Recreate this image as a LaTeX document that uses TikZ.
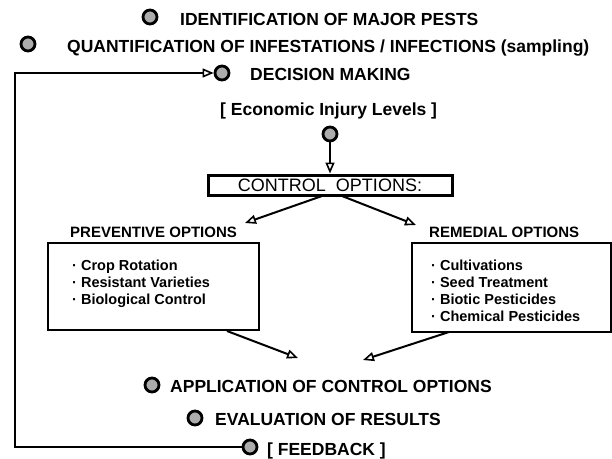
\documentclass[tikz,border=0pt]{standalone}
\usepackage{fontspec}
\setmainfont{Liberation Sans}
\usetikzlibrary{arrows.meta}
\begin{document}
\begin{tikzpicture}[x=1pt,y=-1pt,
  lbl/.style={font=\bfseries\fontsize{17.5}{20}\selectfont, inner sep=0pt, anchor=base west},
  sub/.style={font=\bfseries\fontsize{15}{17}\selectfont, inner sep=0pt, anchor=base west},
  item/.style={font=\bfseries\fontsize{14.5}{16.8}\selectfont, inner sep=0pt, anchor=north west, align=left},
  dot/.style={circle, draw, line width=2.8pt, fill=gray!65, minimum size=14pt, inner sep=0pt},
  conn/.style={line width=2pt, -{Triangle[open,length=11pt,width=9pt,line width=1.6pt]}},
  optbox/.style={draw, line width=2.2pt}]
\useasboundingbox (0,0) rectangle (612,458);

% top items
\node[dot] (d1) at (150,17) {};
\node[lbl] (t1) at (180,25) {IDENTIFICATION OF MAJOR  PESTS};
\node[dot] (d2) at (28,44) {};
\node[lbl] (t2) at (67,52) {QUANTIFICATION OF  INFESTATIONS / INFECTIONS (sampling)};
\node[dot] (d3) at (222,73) {};
\node[lbl] (t3) at (250,80) {DECISION MAKING};
\node[lbl] (t4) at (220,115) {[ Economic Injury Levels ]};
\node[dot] (d4) at (330,134) {};

% control options
\node[draw, line width=3pt, minimum width=244pt, minimum height=20pt, inner sep=0pt,
      font=\fontsize{18}{20}\selectfont] (co) at (330,185) {CONTROL\ \ OPTIONS:};
\draw[conn] (d4.south) -- (co.north);

\node[sub] (pv) at (70,237) {PREVENTIVE OPTIONS};
\node[sub] (rm) at (429,237) {REMEDIAL OPTIONS};
\coordinate (coL) at (322,196);
\coordinate (coR) at (342,196);
\coordinate (pvT) at (245,223);
\coordinate (rmT) at (416,225);
\draw[conn] (coL) -- (pvT);
\draw[conn] (coR) -- (rmT);

\node[optbox, minimum width=211pt, minimum height=87pt] (lb) at (153.5,286.5) {};
\node[optbox, minimum width=199pt, minimum height=89pt] (rb) at (511.5,287.5) {};
\node[item] (li) at (72,260) {\textperiodcentered\ Crop Rotation\\ \textperiodcentered\ Resistant Varieties\\ \textperiodcentered\ Biological Control};
\node[item] (ri) at (431,260) {\textperiodcentered\ Cultivations\\ \textperiodcentered\ Seed Treatment\\ \textperiodcentered\ Biotic Pesticides\\ \textperiodcentered\ Chemical Pesticides};

\coordinate (lbB) at (227,331);
\coordinate (rbB) at (449,332);
\coordinate (apL) at (298,358);
\coordinate (apR) at (363,360);
\draw[conn] (lbB) -- (apL);
\draw[conn] (rbB) -- (apR);

% bottom items
\node[dot] (d5) at (152,385) {};
\node[lbl] (t5) at (170,392) {APPLICATION OF CONTROL OPTIONS};
\node[dot] (d6) at (195,418) {};
\node[lbl] (t6) at (215,425) {EVALUATION OF RESULTS};
\node[dot] (d7) at (250,447) {};
\node[lbl] (t7) at (267,455) {[ FEEDBACK ]};

% feedback loop
\coordinate (cb) at (15,447);
\coordinate (ct) at (15,73);
\draw[conn] (d7.west) -- (cb) -- (ct) -- (d3.west);
\end{tikzpicture}
\end{document}
